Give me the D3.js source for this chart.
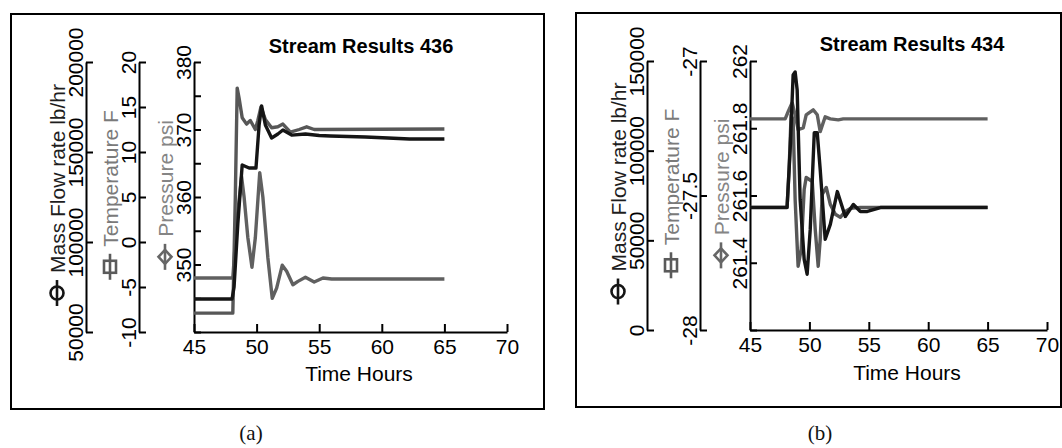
<!DOCTYPE html>
<html>
<head>
<meta charset="utf-8">
<script src="https://cdn.jsdelivr.net/npm/d3@7"></script>
<style>
  body { margin: 0; background: #fff; }
  svg text { font-family: "Liberation Sans", Arial, sans-serif; }
</style>
</head>
<body>
<svg id="chart" width="1062" height="448"></svg>
<script>
// ---------- data ----------
const timeTicks = [45, 50, 55, 60, 65, 70];

// Stream 436
const titleA = "Stream Results 436";
const massTicksA = [50000, 100000, 150000, 200000];
const tempTicksA = [-10, -5, 0, 5, 10, 15, 20];
const pressTicksA = [340, 345, 350, 355, 360, 365, 370, 375, 380];
const pressLabelsA = [350, 360, 370, 380];

// [time h, mass flow lb/hr]
const massFlowA = [
  [45, 68300], [48.04, 68300], [48.2, 75000], [48.5, 110000], [48.85, 142800],
  [49.4, 141100], [49.95, 141100], [50.2, 165000], [50.4, 175600], [50.7, 165000],
  [51.2, 157800], [51.7, 160000], [52.1, 162200], [52.8, 159400], [53.9, 160000],
  [55.0, 159200], [55.9, 158900], [58.7, 158300], [60.5, 157800], [62.2, 157200],
  [65, 157200]
];
// [time h, temperature F]
const temperatureA = [
  [45, -7.9], [48.1, -7.9], [48.3, 5], [48.45, 17.1], [48.6, 16.0], [48.85, 13.8],
  [49.2, 13.1], [49.5, 13.5], [49.9, 12.5], [50.1, 13.5], [50.35, 15.0], [50.7, 13.6],
  [51.2, 12.7], [51.7, 12.8], [52.1, 13.1], [52.7, 12.2], [53.4, 12.5], [54.0, 12.8],
  [54.6, 12.5], [65, 12.55]
];
// [time h, pressure psi]
const pressureA = [
  [45, 348.0], [48.1, 348.0], [48.4, 356], [48.8, 363.0], [49.0, 360], [49.3, 354],
  [49.63, 349.6], [49.9, 354], [50.25, 363.6], [50.5, 360], [50.9, 351], [51.25, 345.0],
  [51.6, 346.5], [52.05, 349.9], [52.4, 349], [52.9, 347.0], [53.3, 347.5], [53.9, 348.1],
  [54.6, 347.4], [55.3, 348.0], [56, 347.85], [65, 347.85]
];

// Stream 434
const titleB = "Stream Results 434";
const massTicksB = [0, 50000, 100000, 150000];
const tempTicksB = [-28, -27.5, -27];
const pressTicksB = [261.2, 261.4, 261.6, 261.8, 262];
const pressLabelsB = [261.4, 261.6, 261.8, 262];

const massFlowB = [
  [45, 68300], [48.12, 68300], [48.38, 100600], [48.63, 142200], [48.8, 143900],
  [48.97, 133900], [49.22, 72800], [49.56, 39400], [49.81, 31100], [50.07, 56100],
  [50.41, 110000], [50.66, 110000], [50.91, 89400], [51.33, 50600], [51.76, 58900],
  [52.35, 77200], [53.02, 63300], [53.7, 70000], [54.29, 66100], [54.88, 66100],
  [55.98, 68300], [65, 68300]
];
const temperatureB = [
  [45, -27.544], [48.12, -27.544], [48.29, -27.404], [48.46, -27.2], [48.63, -27.22],
  [48.8, -27.515], [49.05, -27.763], [49.31, -27.7], [49.56, -27.478], [49.73, -27.433],
  [50.24, -27.448], [50.49, -27.626], [50.74, -27.763], [50.91, -27.663], [51.08, -27.496],
  [51.42, -27.47], [51.76, -27.533], [52.18, -27.57], [52.6, -27.581], [53.02, -27.559],
  [53.45, -27.548], [54.29, -27.544], [65, -27.544]
];
const pressureB = [
  [45, 261.828], [47.96, 261.828], [48.21, 261.849], [48.55, 261.876], [48.8, 261.84],
  [49.05, 261.796], [49.48, 261.801], [49.73, 261.84], [50.32, 261.855], [50.66, 261.84],
  [50.91, 261.79], [51.33, 261.834], [51.76, 261.828], [52.43, 261.825], [52.85, 261.828],
  [65, 261.828]
];

const massLabel = "Mass Flow rate lb/hr";
const tempLabel = "Temperature F";
const pressLabel = "Pressure psi";
const timeLabel = "Time Hours";
const captions = ["(a)", "(b)"];

// ---------- layout ----------
const panels = [
  {
    box: [11, 14, 533, 395], massX: 86, tempX: 139, presX: 194, xEnd: 507,
    yTop: 62, yBot: 332, titleXY: [361, 53], xLabelXY: [359, 381], capXY: [251, 440],
    title: titleA, massTicks: massTicksA, tempTicks: tempTicksA,
    pressTicks: pressTicksA, pressLabels: pressLabelsA,
    mass: massFlowA, temp: temperatureA, press: pressureA, caption: captions[0]
  },
  {
    box: [576, 13, 485, 394], massX: 647, tempX: 700, presX: 750, xEnd: 1047,
    yTop: 61, yBot: 330, titleXY: [912, 51], xLabelXY: [907, 380], capXY: [820, 440],
    title: titleB, massTicks: massTicksB, tempTicks: tempTicksB,
    pressTicks: pressTicksB, pressLabels: pressLabelsB,
    mass: massFlowB, temp: temperatureB, press: pressureB, caption: captions[1]
  }
];

const colors = {
  mass: "#151515", temp: "#575757", press: "#606060",
  massText: "#1e1e1e", tempText: "#7a7a7a", pressText: "#858585",
  massSym: "#151515", tempSym: "#5a5a5a", pressSym: "#666666"
};
const FONT = 21;

const svg = d3.select("#chart");

function styleAxis(g) {
  g.selectAll("path.domain").attr("stroke", "#000").attr("stroke-width", 2);
  g.selectAll(".tick line").attr("stroke", "#000").attr("stroke-width", 2);
  g.selectAll(".tick text").attr("fill", "#000").style("font-size", FONT + "px");
}

function verticalAxis(root, x, scale, ticks, labelSet) {
  const ax = d3.axisLeft(scale)
    .tickValues(ticks)
    .tickSizeInner(-7)
    .tickSizeOuter(0)
    .tickFormat(d => (labelSet == null || labelSet.includes(d)) ? String(d) : "");
  const g = root.append("g").attr("transform", `translate(${x},0)`).call(ax);
  styleAxis(g);
  g.selectAll(".tick text")
    .attr("x", 0).attr("y", -3).attr("dy", null)
    .attr("text-anchor", "middle")
    .attr("transform", "rotate(-90)");
  return g;
}

function axisTitle(root, axisX, midY, label, textColor, symbol, symColor) {
  const g = root.append("g")
    .attr("transform", `translate(${axisX - 21.5},${midY}) rotate(-90)`);
  const t = g.append("text")
    .attr("fill", textColor)
    .style("font-size", FONT + "px")
    .attr("text-anchor", "start")
    .text(label);
  const len = t.node().getComputedTextLength();
  const symLen = 26, gap = 7;
  const start = -(symLen + gap + len) / 2;
  t.attr("x", start + symLen + gap).attr("y", 0);
  const cx = start + symLen / 2, cy = -7.5;
  g.append("line")
    .attr("x1", start).attr("x2", start + symLen)
    .attr("y1", cy).attr("y2", cy)
    .attr("stroke", symColor).attr("stroke-width", 2.6);
  if (symbol === "circle") {
    g.append("circle").attr("cx", cx).attr("cy", cy).attr("r", 6.5)
      .attr("fill", "none").attr("stroke", symColor).attr("stroke-width", 2.6);
  } else if (symbol === "square") {
    g.append("rect").attr("x", cx - 6).attr("y", cy - 6).attr("width", 12).attr("height", 12)
      .attr("fill", "none").attr("stroke", symColor).attr("stroke-width", 2.6);
  } else {
    g.append("path")
      .attr("d", `M${cx - 7},${cy} L${cx},${cy - 6.5} L${cx + 7},${cy} L${cx},${cy + 6.5} Z`)
      .attr("fill", "none").attr("stroke", symColor).attr("stroke-width", 2.6);
  }
}

panels.forEach(p => {
  const root = svg.append("g");

  // frame
  root.append("rect")
    .attr("x", p.box[0]).attr("y", p.box[1])
    .attr("width", p.box[2]).attr("height", p.box[3])
    .attr("fill", "none").attr("stroke", "#000").attr("stroke-width", 2);

  const x = d3.scaleLinear().domain([timeTicks[0], timeTicks[timeTicks.length - 1]])
    .range([p.presX, p.xEnd]);
  const yMass = d3.scaleLinear().domain(d3.extent(p.massTicks)).range([p.yBot, p.yTop]);
  const yTemp = d3.scaleLinear().domain(d3.extent(p.tempTicks)).range([p.yBot, p.yTop]);
  const yPress = d3.scaleLinear().domain(d3.extent(p.pressTicks)).range([p.yBot, p.yTop]);

  // time axis
  const xg = root.append("g").attr("transform", `translate(0,${p.yBot})`)
    .call(d3.axisBottom(x).tickValues(timeTicks).tickSizeInner(-8).tickSizeOuter(0)
      .tickPadding(7).tickFormat(d => String(d)));
  styleAxis(xg);

  // value axes
  verticalAxis(root, p.massX, yMass, p.massTicks, null);
  verticalAxis(root, p.tempX, yTemp, p.tempTicks, null);
  verticalAxis(root, p.presX, yPress, p.pressTicks, p.pressLabels);

  const midY = (p.yTop + p.yBot) / 2 - 2;
  axisTitle(root, p.massX, midY, massLabel, colors.massText, "circle", colors.massSym);
  axisTitle(root, p.tempX, midY, tempLabel, colors.tempText, "square", colors.tempSym);
  axisTitle(root, p.presX, midY, pressLabel, colors.pressText, "diamond", colors.pressSym);

  // series
  const series = [
    { data: p.press, y: yPress, color: colors.press },
    { data: p.temp, y: yTemp, color: colors.temp },
    { data: p.mass, y: yMass, color: colors.mass }
  ];
  series.forEach(s => {
    const line = d3.line().x(d => x(d[0])).y(d => s.y(d[1]));
    root.append("path")
      .datum(s.data)
      .attr("d", line)
      .attr("fill", "none")
      .attr("stroke", s.color)
      .attr("stroke-width", 3.4)
      .attr("stroke-linejoin", "round");
  });

  // title
  root.append("text")
    .attr("x", p.titleXY[0]).attr("y", p.titleXY[1])
    .attr("text-anchor", "middle")
    .style("font-size", "20px").style("font-weight", "bold")
    .attr("fill", "#000")
    .text(p.title);

  // time label
  root.append("text")
    .attr("x", p.xLabelXY[0]).attr("y", p.xLabelXY[1])
    .attr("text-anchor", "middle")
    .style("font-size", FONT + "px")
    .attr("fill", "#000")
    .text(timeLabel);

  // caption
  root.append("text")
    .attr("x", p.capXY[0]).attr("y", p.capXY[1])
    .attr("text-anchor", "middle")
    .style("font-family", "'Liberation Serif', 'Times New Roman', serif")
    .style("font-size", "21px")
    .attr("fill", "#111")
    .text(p.caption);
});
</script>
</body>
</html>
